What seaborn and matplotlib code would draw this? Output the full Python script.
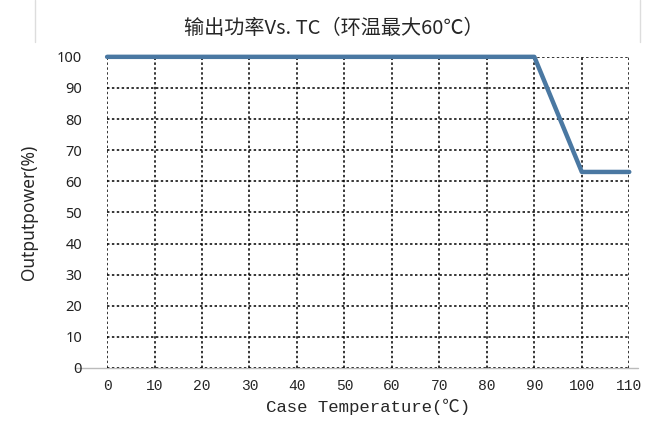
import pandas as pd
import matplotlib.pyplot as plt
import seaborn as sns
from matplotlib.lines import Line2D

# Derating curve
case_temp = [0, 90, 100, 110]
output_power = [100, 100, 63, 63]
x_ticks = [0, 10, 20, 30, 40, 50, 60, 70, 80, 90, 100, 110]
y_ticks = [0, 10, 20, 30, 40, 50, 60, 70, 80, 90, 100]

df = pd.DataFrame({'temp': case_temp, 'power': output_power})

sns.set_style('white')
plt.rcParams['font.family'] = ['Noto Sans', 'Noto Sans CJK SC', 'DejaVu Sans']

fig = plt.figure(figsize=(6.61, 4.21), dpi=100)
ax = fig.add_axes([0.162, 0.126, 0.79, 0.739])

# dotted grid drawn by hand so the border lines are dotted too
for x in x_ticks:
    ax.axvline(x, color='black', linestyle=(0, (1.6, 1.6)), linewidth=1.1, zorder=1)
for y in y_ticks:
    ax.axhline(y, color='black', linestyle=(0, (1.6, 1.6)), linewidth=1.1, zorder=1)

sns.lineplot(data=df, x='temp', y='power', ax=ax, color='#4a78a2', linewidth=3.2,
             clip_on=False, zorder=3)

ax.set_xlim(0, 110)
ax.set_ylim(0, 100)
ax.set_xticks(x_ticks)
ax.set_yticks(y_ticks)
ax.set_xticklabels([str(v) for v in x_ticks],
                   fontdict={'family': ['Liberation Mono', 'DejaVu Sans Mono'], 'size': 10.5})
ax.set_yticklabels([str(v) for v in y_ticks], fontsize=10.5, color='#222222')
ax.tick_params(axis='y', length=0, pad=18)
ax.tick_params(axis='x', length=0, pad=8)
for s in ax.spines.values():
    s.set_visible(False)

ax.set_xlabel('Case Temperature(℃)', fontsize=12.5,
              fontdict={'family': ['Liberation Mono', 'DejaVu Sans Mono', 'Noto Sans CJK SC']},
              labelpad=4)
ax.set_ylabel('Outputpower(%)', fontsize=12.5, labelpad=14)

# light baseline under the zero grid line
fig.add_artist(Line2D([0.113, 0.965], [0.126, 0.126], color='#bbbbbb', linewidth=1, zorder=0))
# faint frame edges at the top
fig.add_artist(Line2D([0.053, 0.053], [0.9, 1.0], color='#dddddd', linewidth=1))
fig.add_artist(Line2D([0.968, 0.968], [0.9, 1.0], color='#dddddd', linewidth=1))

fig.text(0.505, 0.933, '输出功率Vs. TC（环温最大60℃）', ha='center', va='center',
         fontsize=14.5, family=['Noto Sans CJK SC', 'DejaVu Sans'])

plt.savefig('out.png', dpi=100)
plt.close()
